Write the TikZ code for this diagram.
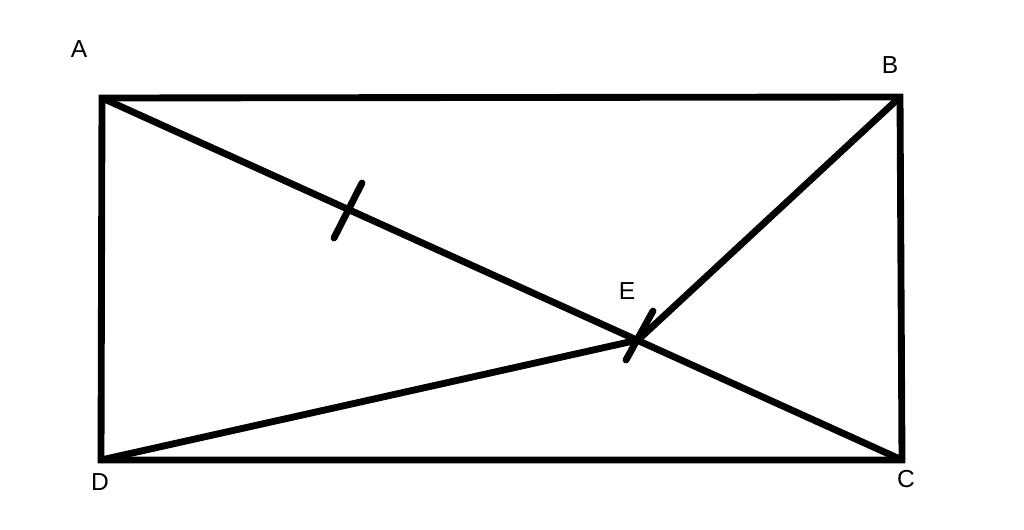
\documentclass[tikz,border=0pt]{standalone}
\usepackage{fontspec}
\setsansfont{Liberation Sans}
\usetikzlibrary{positioning}
\tikzstyle{edge} = [draw, line width=3.9pt]
\tikzstyle{tick} = [draw, line width=3.9pt, line cap=round]
\tikzstyle{lbl} = [font=\sffamily\fontsize{14}{14}\selectfont, inner sep=0pt]
\begin{document}
\begin{tikzpicture}[x=0.02cm,y=-0.02cm]
		\useasboundingbox (0,0) rectangle (1024,530);
		\coordinate (A) at (102,98);
		\coordinate (B) at (900,97);
		\coordinate (C) at (902,460);
		\coordinate (D) at (101,460);
		\coordinate (E) at (638,340);
		\coordinate (t1a) at (334,238);
		\coordinate (t1b) at (362,183);
		\coordinate (t2a) at (626,360);
		\coordinate (t2b) at (653,311);
		\node (la) [lbl] at (79,49) {A};
		\node (lb) [lbl] at (890,65) {B};
		\node (lc) [lbl] at (906,479) {C};
		\node (ld) [lbl] at (100,482) {D};
		\node (le) [lbl] at (627,291) {E};
		
		\draw [edge] (A) -- (B) -- (C) -- (D) -- cycle;
		\draw [edge] (A) -- (C);
		\draw [edge] (B) -- (E);
		\draw [edge] (D) -- (E);
		\draw [tick] (t1a) -- (t1b);
		\draw [tick] (t2a) -- (t2b);
	\end{tikzpicture}
\end{document}
